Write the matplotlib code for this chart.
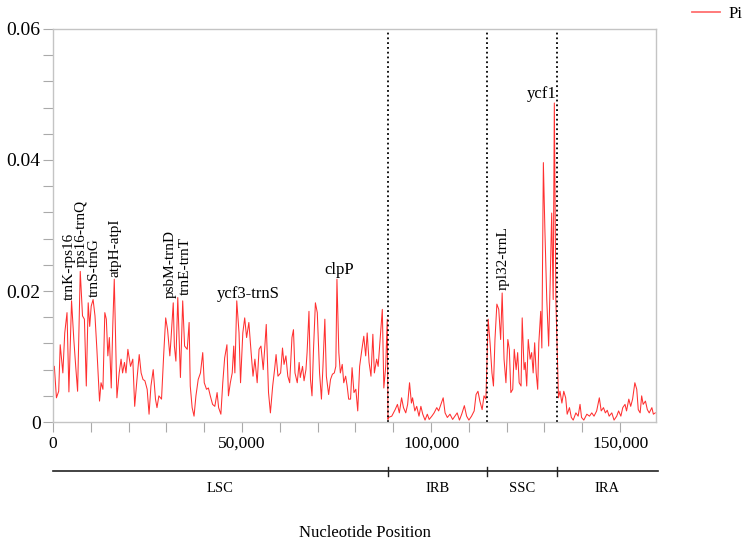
import numpy as np
import matplotlib
matplotlib.use("Agg")
import matplotlib.pyplot as plt
from matplotlib.ticker import FuncFormatter, MultipleLocator
from matplotlib.transforms import blended_transform_factory

plt.rcParams['font.family'] = ['Liberation Serif', 'DejaVu Serif']

# sliding window positions (kb) and nucleotide diversity
pos_kb = [0.35, 0.9, 1.5, 1.9, 2.6, 3.1, 3.7, 4.2, 4.9, 5.5, 6.0, 6.5, 7.2, 7.8, 8.3, 8.8, 9.3, 9.7,
          10.1, 10.6, 11.1, 11.6, 12.3, 12.7, 13.2, 13.7, 14.1, 14.5, 14.9, 15.4, 15.8, 16.2, 16.6,
          16.9, 17.5, 18.0, 18.4, 18.9, 19.3, 19.8, 20.5, 21.1, 21.6, 22.2, 22.8, 23.3, 23.8, 24.3,
          24.9, 25.4, 25.9, 26.5, 27.1, 27.5, 28.0, 28.7, 29.3, 29.8, 30.3, 30.9, 31.2, 31.8, 32.1,
          32.5, 33.0, 33.7, 34.3, 34.8, 35.5, 36.0, 36.3, 36.8, 37.3, 37.8, 38.4, 39.0, 39.6, 40.0,
          40.6, 41.1, 41.6, 42.2, 42.8, 43.4, 43.8, 44.4, 44.9, 45.4, 46.0, 46.4, 46.9, 47.4, 47.8,
          48.1, 48.6, 49.2, 49.6, 50.2, 50.7, 51.2, 51.8, 52.4, 52.9, 53.4, 54.0, 54.5, 55.0, 55.6,
          56.0, 56.4, 57.0, 57.5, 58.1, 58.6, 59.0, 59.5, 60.2, 60.7, 61.1, 61.6, 62.1, 62.6, 63.2,
          63.6, 64.0, 64.6, 65.1, 65.4, 66.0, 66.4, 66.9, 67.2, 67.7, 68.1, 68.5, 68.9, 69.4, 69.9,
          70.5, 71.0, 71.4, 71.9, 72.3, 72.9, 73.4, 73.9, 74.4, 74.8, 75.1, 75.6, 76.0, 76.5, 76.9,
          77.4, 77.8, 78.2, 78.7, 79.1, 79.6, 80.1, 80.6, 81.1, 81.7, 82.2, 82.7, 83.1, 83.6, 84.1,
          84.6, 85.0, 85.6, 86.0, 86.4, 87.1, 87.5, 88.0, 88.4, 88.6,
          88.7, 89.6, 90.5, 91.1, 91.6, 92.2, 92.7, 93.3, 93.8, 94.3, 94.8, 95.1, 95.7, 96.2, 96.8,
          97.3, 97.8, 98.4, 99.0, 99.5, 100.2, 100.8, 101.5, 102.0, 102.6, 103.2, 103.7, 104.3,
          105.0, 105.7, 106.3, 106.9, 107.5, 108.1, 108.8, 109.4, 110.0, 110.7, 111.4, 111.9, 112.4,
          112.9, 113.5, 114.0, 114.5,
          115.1, 115.6, 116.1, 116.5, 116.9, 117.4, 117.9, 118.4, 118.8, 119.3, 119.8, 120.3, 120.7,
          121.1, 121.6, 122.0, 122.5, 122.9, 123.3, 123.8, 124.1, 124.6, 124.9, 125.3, 125.7, 126.2,
          126.6, 127.0, 127.4, 127.8, 128.2, 128.5, 129.0, 129.3, 129.7, 130.1, 130.6, 131.1, 131.5,
          131.9, 132.3, 132.6, 133.0,
          133.7, 134.1, 134.6, 135.1, 135.6, 136.0, 136.6, 137.1, 137.6, 138.3, 138.9, 139.4, 139.8,
          140.4, 141.2, 141.9, 142.5, 143.1, 143.8, 144.5, 145.0, 145.6, 146.1, 146.6, 147.1, 147.8,
          148.4, 149.1, 149.6, 150.2, 150.7, 151.3, 151.7, 152.3, 152.8, 153.3, 153.9, 154.4, 154.8,
          155.3, 155.7, 156.1, 156.7, 157.2, 157.7, 158.4, 158.8, 159.3]

pi = [0.0085, 0.0037, 0.0047, 0.0118, 0.0075, 0.0136, 0.0167, 0.0046, 0.0185, 0.0126, 0.0085, 0.0047,
      0.0230, 0.0162, 0.0157, 0.0055, 0.0182, 0.0146, 0.0177, 0.0187, 0.0162, 0.0111, 0.0032, 0.0060,
      0.0050, 0.0167, 0.0157, 0.0101, 0.0129, 0.0052, 0.0146, 0.0218, 0.0111, 0.0037, 0.0075, 0.0096,
      0.0075, 0.0091, 0.0075, 0.0111, 0.0085, 0.0096, 0.0024, 0.0065, 0.0103, 0.0075, 0.0065, 0.0063,
      0.0050, 0.0012, 0.0055, 0.0080, 0.0035, 0.0022, 0.0040, 0.0035, 0.0106, 0.0159, 0.0141, 0.0101,
      0.0126, 0.0182, 0.0116, 0.0093, 0.0190, 0.0068, 0.0185, 0.0116, 0.0111, 0.0152, 0.0055, 0.0022,
      0.0009, 0.0040, 0.0065, 0.0075, 0.0106, 0.0060, 0.0050, 0.0052, 0.0040, 0.0027, 0.0024, 0.0045,
      0.0022, 0.0012, 0.0060, 0.0098, 0.0118, 0.0040, 0.0060, 0.0075, 0.0116, 0.0075, 0.0185, 0.0136,
      0.0060, 0.0136, 0.0159, 0.0129, 0.0152, 0.0106, 0.0070, 0.0096, 0.0060, 0.0111, 0.0116, 0.0080,
      0.0113, 0.0149, 0.0045, 0.0014, 0.0055, 0.0080, 0.0103, 0.0070, 0.0075, 0.0113, 0.0088, 0.0101,
      0.0070, 0.0060, 0.0129, 0.0141, 0.0075, 0.0060, 0.0091, 0.0068, 0.0085, 0.0063, 0.0080, 0.0106,
      0.0169, 0.0065, 0.0040, 0.0111, 0.0182, 0.0167, 0.0075, 0.0035, 0.0085, 0.0157, 0.0070, 0.0042,
      0.0065, 0.0073, 0.0075, 0.0085, 0.0218, 0.0106, 0.0075, 0.0088, 0.0060, 0.0070, 0.0055, 0.0035,
      0.0035, 0.0083, 0.0045, 0.0050, 0.0017, 0.0085, 0.0111, 0.0131, 0.0101, 0.0136, 0.0091, 0.0070,
      0.0134, 0.0075, 0.0096, 0.0085, 0.0116, 0.0172, 0.0052, 0.0085, 0.0157, 0.0004,
      0.0007, 0.0009, 0.0019, 0.0027, 0.0014, 0.0037, 0.0022, 0.0014, 0.0027, 0.0060, 0.0029, 0.0037,
      0.0017, 0.0024, 0.0009, 0.0024, 0.0012, 0.0003, 0.0012, 0.0004, 0.0009, 0.0014, 0.0022, 0.0017,
      0.0027, 0.0037, 0.0014, 0.0007, 0.0012, 0.0004, 0.0009, 0.0014, 0.0003, 0.0012, 0.0025, 0.0009,
      0.0003, 0.0009, 0.0017, 0.0042, 0.0047, 0.0032, 0.0019, 0.0040, 0.0035,
      0.0157, 0.0121, 0.0075, 0.0055, 0.0126, 0.0180, 0.0172, 0.0126, 0.0197, 0.0096, 0.0060, 0.0126,
      0.0111, 0.0045, 0.0050, 0.0111, 0.0080, 0.0106, 0.0060, 0.0055, 0.0159, 0.0080, 0.0091, 0.0055,
      0.0126, 0.0096, 0.0106, 0.0075, 0.0121, 0.0075, 0.0050, 0.0121, 0.0169, 0.0113, 0.0396, 0.0294,
      0.0187, 0.0116, 0.0213, 0.0319, 0.0187, 0.0487, 0.0187,
      0.0037, 0.0047, 0.0029, 0.0047, 0.0037, 0.0012, 0.0022, 0.0007, 0.0003, 0.0014, 0.0009, 0.0027,
      0.0007, 0.0003, 0.0012, 0.0009, 0.0014, 0.0009, 0.0017, 0.0037, 0.0017, 0.0022, 0.0014, 0.0018,
      0.0009, 0.0014, 0.0003, 0.0009, 0.0017, 0.0009, 0.0022, 0.0027, 0.0017, 0.0035, 0.0024, 0.0035,
      0.0060, 0.0050, 0.0019, 0.0014, 0.0040, 0.0027, 0.0032, 0.0019, 0.0014, 0.0022, 0.0012, 0.0014]

# region borders (bp) and names
borders = [88600, 114700, 133400]
genome_end = 159500
regions = ["LSC", "IRB", "SSC", "IRA"]

# hotspot labels: name, x (kb), y, rotation
hot_names = ["trnK-rps16", "rps16-trnQ", "trnS-trnG", "atpH-atpI", "psbM-trnD", "trnE-trnT",
             "ycf3-trnS", "clpP", "rpl32-trnL", "ycf1"]
hot_x = [4.4, 7.4, 10.8, 16.4, 30.9, 34.9, 51.6, 75.6, 119.0, 129.3]
hot_y = [0.0186, 0.0237, 0.0191, 0.0221, 0.0189, 0.0194, 0.0195, 0.0232, 0.0202, 0.0501]
hot_rot = [90, 90, 90, 90, 90, 90, 0, 0, 90, 0]

x = np.array(pos_kb) * 1000
y = np.array(pi)

fig = plt.figure(figsize=(7.5, 5.46), dpi=100)
ax = fig.add_axes([0.0707, 0.227, 0.804, 0.72])

ax.plot(x, y, color='#ff3030', lw=0.75, label='Pi')
for b in borders:
    ax.axvline(b, color='black', ls=':', lw=1.3)

ax.set_xlim(0, genome_end)
ax.set_ylim(0, 0.06)
ax.set_xticks([0, 50000, 100000, 150000])
ax.xaxis.set_minor_locator(MultipleLocator(10000))
ax.set_yticks([0, 0.02, 0.04, 0.06])
ax.yaxis.set_minor_locator(MultipleLocator(0.004))
ax.xaxis.set_major_formatter(FuncFormatter(lambda v, p: "{:,}".format(int(v))))
ax.yaxis.set_major_formatter(FuncFormatter(lambda v, p: "0" if v == 0 else "%.2f" % v))
ax.tick_params(axis='both', which='both', direction='out', color='#aaaaaa', length=7, width=0.8)
ax.tick_params(axis='x', labelsize=12.5, pad=3)
ax.tick_params(axis='y', labelsize=14, pad=2)
for s in ax.spines.values():
    s.set_color('#c4c4c4')
    s.set_linewidth(1)

for name, hx, hy, r in zip(hot_names, hot_x, hot_y, hot_rot):
    if r == 90:
        ax.text(hx * 1000, hy, name, rotation=90, ha='center', va='bottom', fontsize=11)
    else:
        ax.text(hx * 1000, hy, name, ha='center', va='center', fontsize=12)

# region bar below the plot
tr = blended_transform_factory(ax.transData, fig.transFigure)
bar_y = 0.137
ax.plot([0, genome_end + 500], [bar_y, bar_y], color='#222222', lw=1.2, transform=tr, clip_on=False)
for b in borders:
    ax.plot([b, b], [bar_y - 0.008, bar_y + 0.008], color='#222222', lw=1, transform=tr, clip_on=False)
edges = [0] + borders + [genome_end]
for i, name in enumerate(regions):
    mid = (edges[i] + edges[i + 1]) / 2
    ax.text(mid, 0.106, name, transform=tr, ha='center', va='center', fontsize=10.5)

fig.text(0.487, 0.024, "Nucleotide Position", ha='center', va='center', fontsize=12)

leg = ax.legend(loc='center left', bbox_to_anchor=(0.9227, 0.974), bbox_transform=fig.transFigure,
                frameon=False, fontsize=12, handlelength=1.7, handletextpad=0.5,
                borderaxespad=0, borderpad=0)
leg.get_lines()[0].set_linewidth(1.3)
leg.get_lines()[0].set_color('#ff7070')

fig.savefig("out.png", dpi=100)
